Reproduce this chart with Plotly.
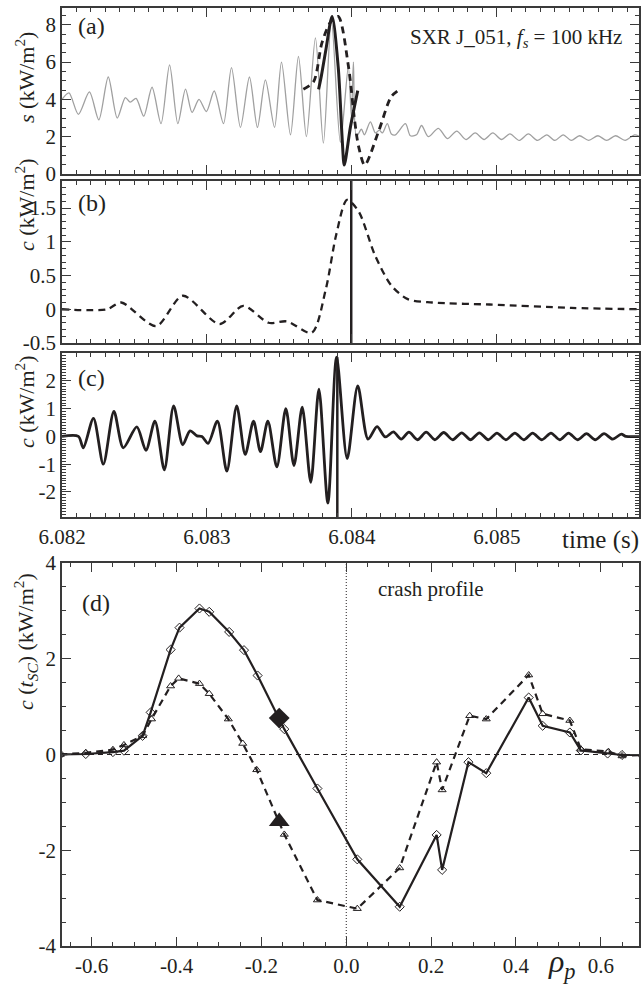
import plotly.graph_objects as go

T0 = 6.082  # s, left edge of the time axis

# ---------- panel (a): SXR signal s (kW/m^2), time offsets in ms ----------
a_gray_ms = [0.000, 0.048, 0.113, 0.189, 0.254, 0.319, 0.381, 0.437, 0.471, 0.511,
             0.564, 0.621, 0.683, 0.742, 0.799, 0.852, 0.897, 0.945, 0.996, 1.050,
             1.114, 1.169, 1.231, 1.293, 1.348, 1.403, 1.466, 1.514, 1.576, 1.631,
             1.686, 1.748, 1.803, 1.858, 1.920, 1.975, 1.996, 2.010, 2.031, 2.065,
             2.086, 2.127, 2.162, 2.189, 2.210, 2.244, 2.272, 2.300, 2.369, 2.403,
             2.445, 2.480, 2.527, 2.596, 2.658, 2.723, 2.787, 2.850, 2.911, 2.972,
             3.031, 3.090, 3.153, 3.217, 3.280, 3.344, 3.400, 3.457, 3.513, 3.569,
             3.633, 3.697, 3.757, 3.818, 3.884, 3.950, 4.000]
a_gray_s = [4.0, 4.35, 3.2, 4.4, 2.9, 5.2, 3.0, 4.1, 3.85, 4.05,
            3.1, 4.65, 2.7, 5.85, 2.7, 4.55, 3.3, 4.0, 3.35, 4.45,
            2.7, 5.7, 2.5, 5.2, 2.5, 5.05, 2.5, 6.0, 2.1, 6.3,
            2.0, 7.3, 1.65, 8.3, 1.7, 5.75, 3.1, 6.0, 2.0, 2.4,
            2.1, 2.8, 2.2, 2.35, 2.2, 2.7, 2.15, 2.1, 2.7, 2.05,
            2.1, 2.6, 2.0, 2.45, 1.9, 2.3, 1.85, 2.2, 1.85, 2.2,
            1.85, 2.15, 1.8, 2.15, 1.8, 2.1, 1.8, 2.1, 1.8, 2.05,
            1.8, 2.05, 1.8, 2.05, 1.8, 2.1, 1.95]

a_solid_ms = [1.770, 1.790, 1.820, 1.863, 1.905, 1.933, 1.947, 1.990, 2.040]
a_solid_s = [4.54, 5.3, 6.65, 8.45, 5.76, 1.82, 0.48, 2.54, 4.47]

a_dash_ms = [1.665, 1.736, 1.792, 1.849, 1.905, 1.976, 2.018, 2.046, 2.088, 2.187, 2.272, 2.342]
a_dash_s = [4.54, 4.96, 7.0, 8.1, 8.45, 5.76, 2.9, 1.47, 0.48, 2.36, 4.15, 4.6]

# ---------- panel (b): c (kW/m^2) ----------
b_ms = [0.000, 0.310, 0.409, 0.649, 0.833, 1.087, 1.250, 1.425, 1.552, 1.722,
        1.820, 1.891, 1.966, 2.046, 2.159, 2.272, 2.385, 2.554, 2.949, 3.514, 3.979]
b_c = [0.0, 0.0, 0.1, -0.25, 0.2, -0.22, 0.05, -0.2, -0.18, -0.35,
       0.3, 1.1, 1.62, 1.45, 0.8, 0.35, 0.15, 0.1, 0.07, 0.02, 0.0]
b_marker_ms = 1.995
b_marker_range = [-0.6, 2.0]

# ---------- panel (c): c (kW/m^2) ----------
c_ms = [0.000, 0.113, 0.147, 0.217, 0.285, 0.358, 0.423, 0.516, 0.579, 0.641,
        0.706, 0.770, 0.833, 0.883, 0.931, 0.965, 1.008, 1.072, 1.137, 1.205,
        1.264, 1.321, 1.369, 1.420, 1.482, 1.544, 1.600, 1.657, 1.716, 1.772,
        1.834, 1.894, 1.967, 2.040, 2.111, 2.173, 2.230, 2.286, 2.340, 2.393,
        2.452, 2.512, 2.572, 2.633, 2.695, 2.757, 2.818, 2.879, 2.940, 3.000,
        3.062, 3.124, 3.185, 3.246, 3.310, 3.373, 3.433, 3.494, 3.556, 3.618,
        3.678, 3.739, 3.798, 3.858, 3.890, 4.000]
c_c = [0.0, 0.0, -0.41, 0.65, -1.0, 0.9, -0.41, 0.34, -0.5, 0.55,
       -1.2, 1.1, -0.3, 0.2, 0.02, 0.0, -0.25, 0.55, -1.25, 1.1,
       -0.65, 0.55, -0.55, 0.55, -1.1, 1.0, -1.05, 1.05, -1.65, 1.7,
       -2.4, 2.85, -0.8, 1.82, -0.1, 0.35, -0.02, 0.16, -0.1, 0.15,
       -0.12, 0.15, -0.12, 0.14, -0.12, 0.13, -0.12, 0.13, -0.12, 0.12,
       -0.12, 0.12, -0.12, 0.12, -0.12, 0.12, -0.12, 0.12, -0.12, 0.1,
       -0.12, 0.1, -0.1, 0.08, 0.0, 0.0]
c_crash_ms = 1.899
c_crash_c = [2.85, -3.5]

# ---------- panel (d): crash profile c(t_SC) vs rho_p ----------
d_rho_solid = [-0.674, -0.614, -0.550, -0.524, -0.480, -0.461, -0.414, -0.393, -0.346, -0.323,
               -0.276, -0.241, -0.209, -0.146, -0.068, 0.026, 0.126, 0.213, 0.226, 0.288,
               0.330, 0.430, 0.463, 0.527, 0.553, 0.616, 0.650, 0.699]
d_c_solid = [0.0, 0.01, 0.05, 0.08, 0.39, 0.88, 2.19, 2.65, 3.05, 2.98,
             2.56, 2.18, 1.65, 0.53, -0.71, -2.19, -3.18, -1.68, -2.41, -0.16,
             -0.39, 1.19, 0.60, 0.46, 0.085, 0.02, -0.01, -0.01]
d_rho_dash = [-0.674, -0.614, -0.550, -0.524, -0.480, -0.459, -0.414, -0.395, -0.346, -0.323,
              -0.278, -0.244, -0.211, -0.146, -0.068, 0.026, 0.126, 0.213, 0.226, 0.291,
              0.330, 0.430, 0.463, 0.527, 0.553, 0.618, 0.650, 0.699]
d_c_dash = [0.0, 0.035, 0.1, 0.2, 0.39, 0.74, 1.43, 1.59, 1.48, 1.27,
            0.74, 0.23, -0.32, -1.67, -3.04, -3.22, -2.37, -0.16, -0.74, 0.81,
            0.74, 1.66, 0.85, 0.71, 0.11, 0.06, -0.03, -0.01]
d_big_rho = -0.158
d_big_diamond = 0.76
d_big_triangle = -1.40

# tick labels
time_ticks = [6.082, 6.083, 6.084, 6.085]
time_text = ["6.082", "6.083", "6.084", "6.085"]
a_ticks = [0, 2, 4, 6, 8]
b_ticks = [-0.5, 0, 0.5, 1, 1.5]
b_text = ["-0.5", "0", "0.5", "1", "1.5"]
c_ticks = [-2, -1, 0, 1, 2]
c_text = ["-2", "-1", "0", "1", "2"]
d_yticks = [-4, -2, 0, 2, 4]
d_ytext = ["-4", "-2", "0", "2", "4"]
d_xticks = [-0.6, -0.4, -0.2, 0.0, 0.2, 0.4, 0.6]
d_xtext = ["-0.6", "-0.4", "-0.2", "0.0", "0.2", "0.4", "0.6"]


def sec(ms_list):
    return [T0 + m / 1000.0 for m in ms_list]


W, H = 642, 986
FONT = "Liberation Serif"
INK = "#231f20"
AX = "#3a3a3a"


def px_x(p):
    return p / W


def px_y(p):
    return 1 - p / H


XDOM = [px_x(62), px_x(639)]
DOM_A = [px_y(174), px_y(8)]
DOM_B = [px_y(343), px_y(181)]
DOM_C = [px_y(517), px_y(353)]
DOM_D = [px_y(946), px_y(563)]

fig = go.Figure()

spl = dict(shape="spline", smoothing=0.8)
fig.add_trace(go.Scatter(x=sec(a_gray_ms), y=a_gray_s, mode="lines",
                         line=dict(color="#a0a0a0", width=1.3, **spl), xaxis="x", yaxis="y"))
fig.add_trace(go.Scatter(x=sec(a_dash_ms), y=a_dash_s, mode="lines",
                         line=dict(color=INK, width=2.8, dash="7px,5px", **spl), xaxis="x", yaxis="y"))
fig.add_trace(go.Scatter(x=sec(a_solid_ms), y=a_solid_s, mode="lines",
                         line=dict(color=INK, width=3, **spl), xaxis="x", yaxis="y"))

fig.add_trace(go.Scatter(x=sec(b_ms), y=b_c, mode="lines",
                         line=dict(color=INK, width=2.3, dash="7px,5px", **spl), xaxis="x2", yaxis="y2"))
fig.add_trace(go.Scatter(x=sec([b_marker_ms, b_marker_ms]), y=b_marker_range, mode="lines",
                         line=dict(color=INK, width=2.5), xaxis="x2", yaxis="y2"))

fig.add_trace(go.Scatter(x=sec(c_ms), y=c_c, mode="lines",
                         line=dict(color=INK, width=2.8, **spl), xaxis="x3", yaxis="y3"))
fig.add_trace(go.Scatter(x=sec([c_crash_ms, c_crash_ms]), y=c_crash_c, mode="lines",
                         line=dict(color=INK, width=2.5), xaxis="x3", yaxis="y3"))

# panel (d)
fig.add_trace(go.Scatter(x=[-0.67, 0.69], y=[0, 0], mode="lines",
                         line=dict(color=INK, width=1, dash="5px,4px"), xaxis="x4", yaxis="y4"))
fig.add_trace(go.Scatter(x=[0, 0], y=[-4, 4], mode="lines",
                         line=dict(color=INK, width=1, dash="1px,2px"), xaxis="x4", yaxis="y4"))
fig.add_trace(go.Scatter(x=d_rho_dash, y=d_c_dash, mode="lines+markers",
                         line=dict(color=INK, width=2.2, dash="7px,5px"),
                         marker=dict(symbol="triangle-up-open", size=7, color=INK, line=dict(width=1)),
                         xaxis="x4", yaxis="y4"))
fig.add_trace(go.Scatter(x=d_rho_solid, y=d_c_solid, mode="lines+markers",
                         line=dict(color=INK, width=2.2),
                         marker=dict(symbol="diamond-open", size=7, color=INK, line=dict(width=1)),
                         xaxis="x4", yaxis="y4"))
fig.add_trace(go.Scatter(x=[d_big_rho], y=[d_big_diamond], mode="markers",
                         marker=dict(symbol="diamond", size=16, color=INK), xaxis="x4", yaxis="y4"))
fig.add_trace(go.Scatter(x=[d_big_rho], y=[d_big_triangle], mode="markers",
                         marker=dict(symbol="triangle-up", size=18, color=INK), xaxis="x4", yaxis="y4"))


def axis(dom, rng, tickvals, ticktext, minor_dtick, minor_tick0, showlabels=True, anchor=None):
    d = dict(domain=dom, range=rng, showline=True, linecolor=AX, linewidth=1.6,
             mirror="allticks", ticks="inside", ticklen=9, tickwidth=1.3, tickcolor=AX,
             showgrid=False, zeroline=False, automargin=False,
             tickmode="array", tickvals=tickvals, ticktext=ticktext,
             showticklabels=showlabels,
             tickfont=dict(family=FONT, size=21, color=INK),
             minor=dict(ticks="inside", ticklen=4.5, tickwidth=1, tickcolor=AX,
                        dtick=minor_dtick, tick0=minor_tick0, showgrid=False))
    if anchor:
        d["anchor"] = anchor
    return d


TR = [T0, T0 + 0.00398]
layout = dict(
    width=W, height=H, margin=dict(l=0, r=0, t=0, b=0),
    paper_bgcolor="white", plot_bgcolor="white", showlegend=False,
    template="none",
    font=dict(family=FONT, color=INK, size=20),
    xaxis=axis(XDOM, TR, time_ticks, time_text, 0.0001, T0, False, "y"),
    xaxis2=axis(XDOM, TR, time_ticks, time_text, 0.0001, T0, False, "y2"),
    xaxis3=axis(XDOM, TR, time_ticks, time_text, 0.0001, T0, True, "y3"),
    xaxis4=axis(XDOM, [-0.67, 0.69], d_xticks, d_xtext, 0.05, 0, True, "y4"),
    yaxis=axis(DOM_A, [0, 8.9], a_ticks, [str(v) for v in a_ticks], 0.5, 0, True, "x"),
    yaxis2=axis(DOM_B, [-0.5, 1.9], b_ticks, b_text, 0.1, 0, True, "x2"),
    yaxis3=axis(DOM_C, [-2.9, 3.0], c_ticks, c_text, 0.1, 0, True, "x3"),
    yaxis4=axis(DOM_D, [-4, 4], d_yticks, d_ytext, 0.5, 0, True, "x4"),
)
fig.update_layout(**layout)


def ann(text, x, y, size=20, xanchor="center", yanchor="middle", angle=0):
    fig.add_annotation(text=text, xref="paper", yref="paper", x=px_x(x), y=px_y(y),
                       xanchor=xanchor, yanchor=yanchor, showarrow=False, textangle=angle,
                       font=dict(family=FONT, size=size, color=INK))


ann("(a)", 76, 26, 24, xanchor="left")
ann("(b)", 76, 203, 24, xanchor="left")
ann("(c)", 76, 378, 24, xanchor="left")
ann("(d)", 80, 603, 24, xanchor="left")
ann("SXR J_051, <i>f<sub>s</sub></i> = 100 kHz", 624, 38, 21, xanchor="right")
ann("crash profile", 431, 589, 21)
ann("<i>s</i> (kW/m<sup>2</sup>)", 25, 78, 22, angle=-90)
ann("<i>c</i> (kW/m<sup>2</sup>)", 25, 205, 22, angle=-90)
ann("<i>c</i> (kW/m<sup>2</sup>)", 25, 402, 22, angle=-90)
ann("<i>c</i> (<i>t<sub>SC</sub></i>) (kW/m<sup>2</sup>)", 25, 642, 22, angle=-90)
ann("time (s)", 600, 540, 25)
ann("<i>ρ<sub>p</sub></i>", 562, 963, 32)

fig.write_html("out.html")
